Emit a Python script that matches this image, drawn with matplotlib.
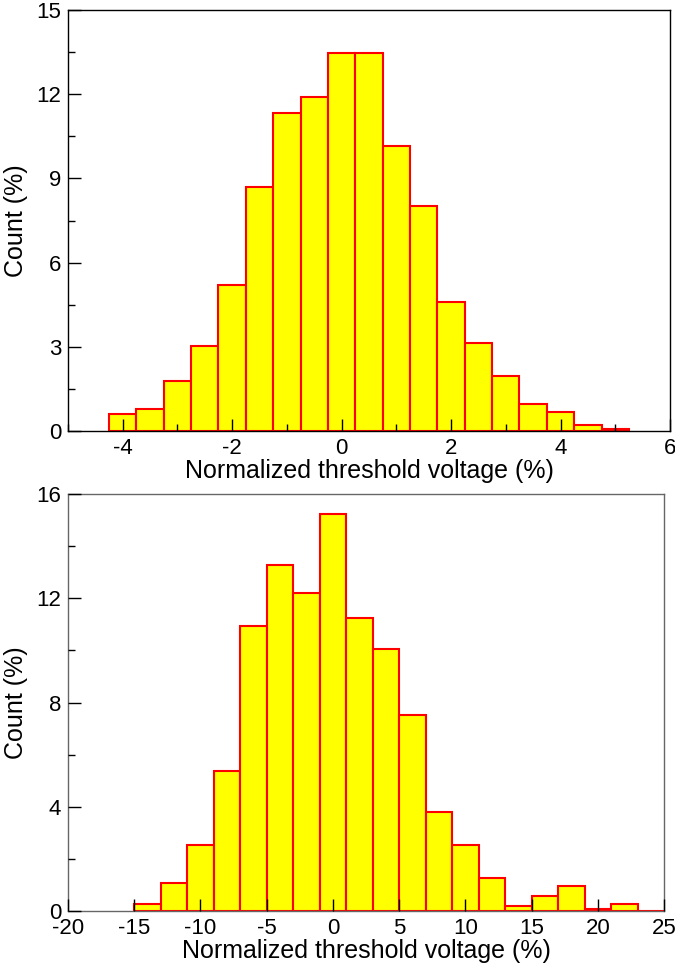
import matplotlib
matplotlib.use("Agg")
import matplotlib.pyplot as plt
from matplotlib.ticker import MultipleLocator

plt.rcParams['font.family'] = ['Liberation Sans', 'DejaVu Sans']
plt.rcParams['axes.unicode_minus'] = False

# top histogram: bin left edges (%) and counts (%)
top_edges = [-4.25, -3.75, -3.25, -2.75, -2.25, -1.75, -1.25, -0.75, -0.25, 0.25,
             0.75, 1.25, 1.75, 2.25, 2.75, 3.25, 3.75, 4.25, 4.75]
top_counts = [0.59, 0.80, 1.77, 3.03, 5.19, 8.69, 11.32, 11.91, 13.48, 13.48,
              10.17, 8.01, 4.59, 3.13, 1.96, 0.98, 0.69, 0.20, 0.09]
top_width = 0.5

# bottom histogram
bot_edges = [-15, -13, -11, -9, -7, -5, -3, -1, 1, 3,
             5, 7, 9, 11, 13, 15, 17, 19, 21, 23]
bot_counts = [0.28, 1.07, 2.53, 5.37, 10.95, 13.27, 12.20, 15.24, 11.25, 10.05,
              7.52, 3.80, 2.53, 1.27, 0.19, 0.58, 0.97, 0.09, 0.28, 0.0]
bot_width = 2.0

xlabel = "Normalized threshold voltage (%)"
ylabel = "Count (%)"

fig = plt.figure(figsize=(6.75, 9.71), dpi=100)
ax1 = fig.add_axes([0.1007, 0.5561, 0.8919, 0.4336])
ax2 = fig.add_axes([0.1007, 0.0618, 0.883, 0.4294])


def style(ax, spine_color):
    for s in ax.spines.values():
        s.set_color(spine_color)
        s.set_linewidth(1.0)
    ax.tick_params(which='both', direction='in', top=False, right=False,
                   labelsize=16, pad=5)
    ax.tick_params(which='major', length=9, width=1)
    ax.tick_params(which='minor', length=5, width=1)
    ax.set_xlabel(xlabel, fontsize=18, labelpad=0)
    ax.set_ylabel(ylabel, fontsize=18, labelpad=6)


ax1.bar(top_edges, top_counts, width=top_width, align='edge',
        color='#ffff00', edgecolor='#ff0000', linewidth=1.5, zorder=1)
ax1.set_xlim(-5, 6)
ax1.set_ylim(0, 15)
ax1.xaxis.set_major_locator(MultipleLocator(2))
ax1.xaxis.set_minor_locator(MultipleLocator(1))
ax1.yaxis.set_major_locator(MultipleLocator(3))
ax1.yaxis.set_minor_locator(MultipleLocator(1.5))
style(ax1, 'black')

ax2.bar(bot_edges, bot_counts, width=bot_width, align='edge',
        color='#ffff00', edgecolor='#ff0000', linewidth=1.5, zorder=1)
ax2.set_xlim(-20, 25)
ax2.set_ylim(0, 16)
ax2.xaxis.set_major_locator(MultipleLocator(5))
ax2.yaxis.set_major_locator(MultipleLocator(4))
ax2.yaxis.set_minor_locator(MultipleLocator(2))
style(ax2, '#666666')

for ax in (ax1, ax2):
    ax.set_axisbelow(False)

fig.savefig("out.png", dpi=100)
